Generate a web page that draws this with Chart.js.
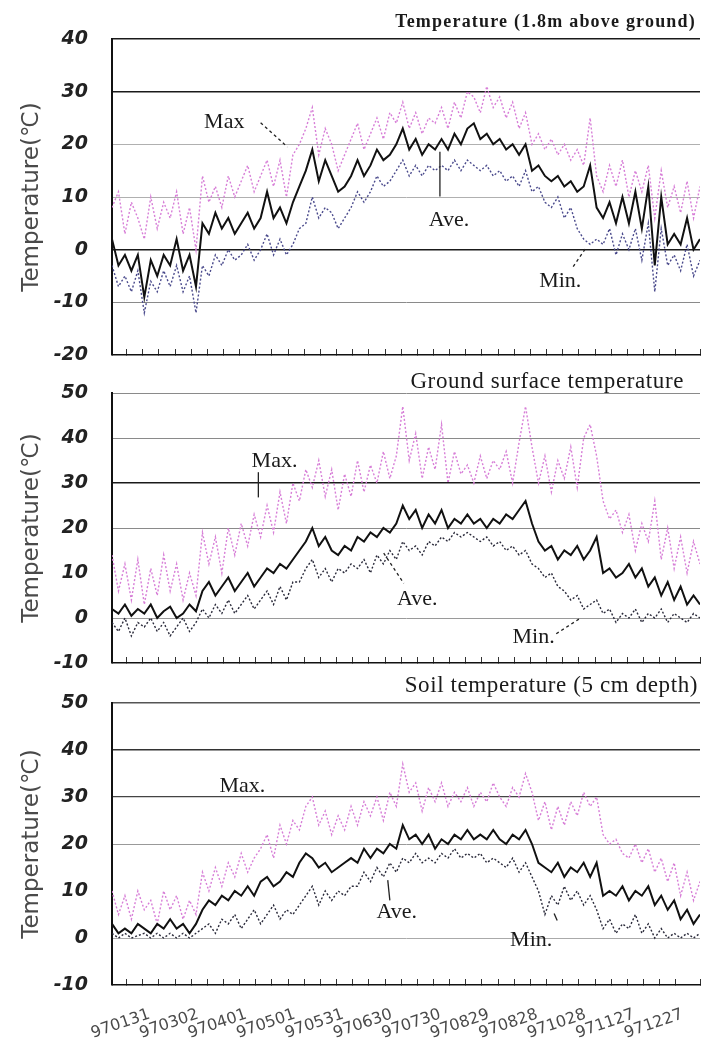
<!DOCTYPE html>
<html>
<head>
<meta charset="utf-8">
<title>Daily temperatures 1997</title>
<script src="https://cdn.jsdelivr.net/npm/chart.js@4.4.1/dist/chart.umd.min.js"></script>
<style>
  html, body { margin: 0; padding: 0; background: #fff; }
  body { position: relative; width: 701px; height: 1045px; overflow: hidden; }
  canvas { position: absolute; left: 0; }
  .panel-title {
    position: absolute; margin: 0; line-height: 1; white-space: nowrap;
    font-family: 'Liberation Serif', 'Times New Roman', serif; font-weight: normal; color: #1a1a1a;
  }
</style>
</head>
<body>
  <canvas id="air" width="701" height="366" style="top:0"></canvas>
  <canvas id="surface" width="701" height="308" style="top:366px"></canvas>
  <canvas id="soil" width="701" height="371" style="top:674px"></canvas>
  <h2 class="panel-title" style="top:12px;right:5px;font-size:18px;font-weight:bold;letter-spacing:1.2px">Temperature (1.8m above ground)</h2>
  <h2 class="panel-title" style="top:369px;right:17px;font-size:23px;letter-spacing:0.6px">Ground surface temperature</h2>
  <h2 class="panel-title" style="top:673px;right:3px;font-size:23px;letter-spacing:0.6px">Soil temperature (5 cm depth)</h2>

<script>
  // day of year for every sample (1997)
  const days = [
    1, 5, 9, 13, 17, 21, 25, 29, 33, 37,
    41, 45, 49, 53, 57, 61, 65, 69, 73, 77,
    81, 85, 89, 93, 97, 101, 105, 109, 113, 117,
    121, 125, 129, 133, 137, 141, 145, 149, 153, 157,
    161, 165, 169, 173, 177, 181, 185, 189, 193, 197,
    201, 205, 209, 213, 217, 221, 225, 229, 233, 237,
    241, 245, 249, 253, 257, 261, 265, 269, 273, 277,
    281, 285, 289, 293, 297, 301, 305, 309, 313, 317,
    321, 325, 329, 333, 337, 341, 345, 349, 353, 357,
    361, 365
  ];

  const dateLabels = ['970131', '970302', '970401', '970501', '970531', '970630',
    '970730', '970829', '970828', '971028', '971127', '971227'];
  const labelDays = [31, 61, 91, 121, 151, 181, 211, 241, 271, 301, 331, 361];

  // air temperature 1.8 m above ground
  const airMax = [
    8, 11, 3, 9, 6, 2, 10, 4, 9, 6,
    11, 3, 8, 0, 14, 9, 12, 8, 14, 10,
    13, 16, 11, 14, 17, 12, 17, 10, 18, 20,
    23, 27, 18, 23, 20, 15, 18, 21, 24, 19,
    22, 25, 21, 26, 24, 28, 23, 26, 22, 25,
    24, 27, 23, 28, 25, 30, 29, 26, 31, 27,
    29, 25, 28, 23, 26, 20, 22, 19, 21, 18,
    20, 17, 19, 16, 25, 14, 11, 16, 12, 17,
    10, 15, 11, 16, 6, 15, 8, 12, 7, 13,
    6, 12
  ];
  const airAve = [
    2, -3, -1, -4, -1, -9, -2, -5, -1, -3,
    2, -4, -1, -7, 5, 3, 7, 4, 6, 3,
    5, 7, 4, 6, 11, 6, 8, 5, 9, 12,
    15, 19, 13, 17, 14, 11, 12, 14, 17, 14,
    16, 19, 17, 18, 20, 23, 19, 21, 18, 20,
    19, 21, 19, 22, 20, 23, 24, 21, 22, 20,
    21, 19, 20, 18, 20, 15, 16, 14, 13, 14,
    12, 13, 11, 12, 16, 8, 6, 9, 5, 10,
    5, 11, 4, 12, -3, 10, 1, 3, 1, 6,
    0, 2
  ];
  const airMin = [
    -3, -7, -5, -8, -4, -12, -6, -8, -4, -7,
    -3, -8, -5, -12, -3, -5, -1, -3, 0, -2,
    -1, 1, -2, 0, 3, -1, 2, -1, 1, 4,
    5, 10, 6, 8, 7, 4, 6, 8, 11, 9,
    11, 14, 12, 13, 15, 17, 14, 16, 14, 16,
    15, 16, 15, 17, 15, 17, 16, 15, 16, 14,
    15, 13, 14, 12, 15, 11, 12, 9, 8, 10,
    6, 8, 4, 2, 1, 2, 1, 4, -1, 3,
    0, 4, -2, 5, -8, 4, -3, -1, -4, 1,
    -5, -2
  ];

  // ground surface temperature
  const surfaceMax = [
    14, 6, 12, 4, 13, 3, 11, 5, 14, 6,
    12, 4, 10, 5, 19, 12, 18, 10, 20, 14,
    21, 16, 23, 18, 25, 19, 28, 21, 30, 26,
    33, 29, 35, 27, 33, 24, 32, 27, 35, 28,
    34, 30, 37, 31, 36, 47, 35, 41, 31, 38,
    33, 43, 30, 37, 32, 34, 30, 36, 31, 35,
    33, 37, 30, 39, 47, 38, 30, 36, 28, 35,
    31, 38, 29, 40, 43, 36, 26, 22, 24, 19,
    23, 15, 21, 17, 26, 13, 20, 11, 18, 10,
    17, 12
  ];
  const surfaceAve = [
    2, 1, 3, 0.5, 2, 1, 3, 0, 1.5, 2.5,
    0, 1, 3, 1.5, 6, 8, 5, 7, 9, 6,
    8, 10, 7, 9, 11, 10, 12, 11, 13, 15,
    17, 20, 16, 18, 15, 14, 16, 15, 18, 17,
    19, 18, 20, 19, 21, 25, 22, 24, 20, 23,
    21, 24, 20, 22, 21, 23, 21, 22, 20, 22,
    21, 23, 22, 24, 26, 21, 17, 15, 16, 13,
    15, 14, 16, 13, 15, 18, 10, 11, 9, 10,
    12, 9, 11, 7, 9, 5, 8, 4, 7, 3,
    5, 3
  ];
  const surfaceMin = [
    -1, -3, 0, -4, -1, -2, 0, -3, -1, -4,
    -2, 0, -3, -1, 2, 0, 3, 1, 4, 1,
    3, 5, 2, 4, 6, 3, 7, 4, 8, 8,
    11, 13, 9, 11, 8, 11, 10, 12, 11, 13,
    10, 14, 12, 15, 13, 17, 15, 16, 14, 17,
    16, 18, 17, 19, 18, 19, 18, 17, 18, 16,
    17, 15, 16, 14, 15, 12, 11, 9, 10, 7,
    6, 4, 5, 2, 3, 4, 1, 2, -1, 1,
    0, 2, -1, 1, 0, 2, -1, 1, 0, -1,
    1, 0
  ];

  // soil temperature at 5 cm depth
  const soilMax = [
    10, 5, 9, 4, 10, 6, 8, 3, 10, 6,
    9, 4, 8, 5, 14, 10, 15, 11, 16, 13,
    18, 14, 17, 19, 22, 17, 24, 20, 25, 23,
    28, 30, 24, 27, 22, 26, 23, 28, 24, 29,
    26, 30, 25, 31, 28, 37, 31, 33, 27, 32,
    29, 33, 28, 31, 29, 32, 28, 31, 29, 33,
    30, 28, 32, 30, 35, 31, 25, 29, 23, 28,
    24, 29, 26, 31, 28, 30, 22, 20, 21, 18,
    17, 20, 16, 19, 14, 17, 12, 16, 9, 14,
    8, 12
  ];
  const soilAve = [
    3, 1, 2, 1, 3, 2, 1, 3, 2, 4,
    2, 3, 1, 3, 6, 8, 7, 9, 8, 10,
    9, 11, 9, 12, 13, 11, 12, 14, 13, 16,
    18, 17, 15, 16, 14, 15, 16, 17, 16, 19,
    17, 19, 18, 20, 19, 24, 21, 22, 20, 22,
    19, 21, 20, 22, 21, 23, 21, 22, 21, 23,
    21, 20, 22, 21, 23, 20, 16, 15, 14, 16,
    13, 15, 14, 16, 13, 16, 9, 10, 9, 11,
    8, 10, 9, 11, 7, 9, 6, 8, 4, 6,
    3, 5
  ];
  const soilMin = [
    1, 0, 1, 0, 0.5, 1, 0, 1, 0, 1,
    0, 1, 0, 1, 2, 3, 1, 4, 3, 5,
    2, 4, 6, 3, 5, 7, 4, 6, 5, 7,
    9, 11, 7, 10, 8, 10, 9, 11, 11, 14,
    12, 15, 13, 16, 14, 17, 16, 18, 16, 17,
    16, 18, 17, 19, 17, 18, 17, 18, 16, 17,
    16, 15, 17, 14, 16, 13, 10, 5, 9, 7,
    11, 8, 10, 7, 9, 6, 2, 4, 1, 3,
    2, 5, 1, 3, 0, 2, 0, 1, 0, 1,
    0, 1
  ];

  // hand-written callouts, in data coordinates (day, °C)
  const airNotes = {
    labels: [{ text: 'Max', at: [70.5, 23.1] }, { text: 'Ave.', at: [209.6, 4.4] }, { text: 'Min.', at: [278.5, -7] }],
    leaders: [
      { from: [93, 24.1], to: [109.6, 19.5], dash: true },
      { from: [204, 18.6], to: [204, 10.1], dash: false },
      { from: [286.5, -3.2], to: [294.6, 0.4], dash: true }
    ]
  };
  const surfaceNotes = {
    labels: [{ text: 'Max.', at: [101.6, 33.5] }, { text: 'Ave.', at: [190, 2.8] }, { text: 'Min.', at: [262, -5.5] }],
    leaders: [
      { from: [91.6, 32.4], to: [91.6, 26.8], dash: false },
      { from: [169.2, 14.4], to: [181.6, 7.7], dash: true },
      { from: [276, -3.5], to: [291.5, 0.1], dash: true }
    ]
  };
  const soilNotes = {
    labels: [{ text: 'Max.', at: [81.7, 31] }, { text: 'Ave.', at: [177.3, 4.2] }, { text: 'Min.', at: [260.5, -1.6] }],
    leaders: [
      { from: [171.7, 12.3], to: [173, 8], dash: false },
      { from: [274.7, 5.2], to: [276.6, 3.7], dash: false }
    ]
  };

  const notesPlugin = {
    id: 'notes',
    afterDatasetsDraw(chart, args, opts) {
      const { ctx, scales: { x, y } } = chart;
      ctx.save();
      ctx.strokeStyle = '#222';
      ctx.lineWidth = 1.3;
      (opts.leaders || []).forEach((l) => {
        ctx.setLineDash(l.dash ? [3, 3] : []);
        ctx.beginPath();
        ctx.moveTo(x.getPixelForValue(l.from[0]), y.getPixelForValue(l.from[1]));
        ctx.lineTo(x.getPixelForValue(l.to[0]), y.getPixelForValue(l.to[1]));
        ctx.stroke();
      });
      ctx.setLineDash([]);
      ctx.font = '22px "Liberation Serif", serif';
      ctx.fillStyle = '#1a1a1a';
      ctx.textAlign = 'center';
      ctx.textBaseline = 'alphabetic';
      (opts.labels || []).forEach((n) => {
        ctx.fillText(n.text, x.getPixelForValue(n.at[0]), y.getPixelForValue(n.at[1]));
      });
      ctx.restore();
    }
  };

  const none = ['rgba(0,0,0,0)', 0];

  function series(values) {
    return days.map((d, i) => ({ x: d, y: values[i] }));
  }

  function makePanel(id, cfg) {
    const scales = {
      x: {
        type: 'linear', min: 1, max: 365, position: 'bottom', weight: 0,
        ticks: { display: false, stepSize: 10, autoSkip: false },
        grid: { display: true, drawOnChartArea: false, drawTicks: true, tickLength: -6, tickColor: '#333', tickWidth: 1 },
        border: { display: true, color: '#111', width: 1.5 },
        afterFit: (s) => { s.height = 0; s.paddingLeft = 0; s.paddingRight = 0; }
      },
      y: {
        min: cfg.yMin, max: cfg.yMax, position: 'left',
        // fixed axis width; the layout padding alone decides the plot top/bottom
        afterFit: (s) => { s.width = 112; s.paddingTop = 0; s.paddingBottom = 0; },
        ticks: {
          stepSize: 10, padding: 24, color: '#222',
          font: { family: 'DejaVu Sans', size: 19, weight: 'bold', style: 'italic' }
        },
        grid: {
          drawTicks: false,
          color: (c) => (c.tick ? (cfg.grid[c.tick.value] || none)[0] : none[0]),
          lineWidth: (c) => (c.tick ? (cfg.grid[c.tick.value] || none)[1] : 0)
        },
        border: { display: true, color: '#111', width: 2 },
        title: {
          display: true, text: 'Temperature(℃)', color: '#4a4a4a',
          font: { family: 'DejaVu Sans', size: 23 }, padding: { top: 18, bottom: 0 }
        }
      }
    };
    if (cfg.showDates) {
      scales.xl = {
        type: 'linear', min: 1, max: 365, position: 'bottom', weight: 1,
        afterBuildTicks: (s) => { s.ticks = labelDays.map((v) => ({ value: v })); },
        afterFit: (s) => { s.height = 55; s.paddingLeft = 0; s.paddingRight = 0; },
        ticks: {
          autoSkip: false, minRotation: 19, maxRotation: 19, labelOffset: -11, padding: 12,
          color: '#4a4a4a', font: { family: 'DejaVu Sans', size: 16 },
          callback: (v, i) => dateLabels[i]
        },
        grid: { display: false },
        border: { display: false }
      };
    }

    return new Chart(document.getElementById(id), {
      type: 'line',
      data: {
        datasets: [
          { label: 'Ave.', data: series(cfg.ave), borderColor: '#111', borderWidth: 2, pointRadius: 0 },
          { label: 'Min.', data: series(cfg.min), borderColor: cfg.minColor, borderWidth: 1.4, borderDash: [2, 2], pointRadius: 0 },
          { label: 'Max.', data: series(cfg.max), borderColor: '#d77ed7', borderWidth: 1.4, borderDash: [2, 2], pointRadius: 0 }
        ]
      },
      options: {
        responsive: false,
        animation: false,
        layout: { padding: cfg.padding },
        scales,
        plugins: {
          legend: { display: false },
          tooltip: { enabled: false },
          notes: cfg.notes
        }
      },
      plugins: [notesPlugin]
    });
  }

  makePanel('air', {
    yMin: -20, yMax: 40,
    max: airMax, ave: airAve, min: airMin, minColor: '#4a4a8c',
    grid: { 40: ['#1a1a1a', 1.5], 30: ['#1a1a1a', 1.5], 20: ['#b0b0b0', 1], 10: ['#b0b0b0', 1], 0: ['#1a1a1a', 1.5], '-10': ['#8a8a8a', 1] },
    notes: airNotes,
    padding: { top: 39, bottom: 11, left: 0, right: 1 }
  });

  makePanel('surface', {
    yMin: -10, yMax: 50,
    max: surfaceMax, ave: surfaceAve, min: surfaceMin, minColor: '#2a2a3a',
    grid: { 50: ['#8a8a8a', 1], 40: ['#8a8a8a', 1], 30: ['#1a1a1a', 1.5], 20: ['#8a8a8a', 1], 0: ['#9a9a9a', 1] },
    notes: surfaceNotes,
    padding: { top: 27, bottom: 11, left: 0, right: 1 }
  });

  makePanel('soil', {
    yMin: -10, yMax: 50,
    max: soilMax, ave: soilAve, min: soilMin, minColor: '#2a2a3a',
    grid: { 50: ['#555', 1.5], 40: ['#333', 1.5], 30: ['#444', 1.3], 20: ['#999', 1], 0: ['#aaa', 1] },
    notes: soilNotes,
    showDates: true,
    padding: { top: 29, bottom: 5, left: 0, right: 1 }
  });
</script>
</body>
</html>
